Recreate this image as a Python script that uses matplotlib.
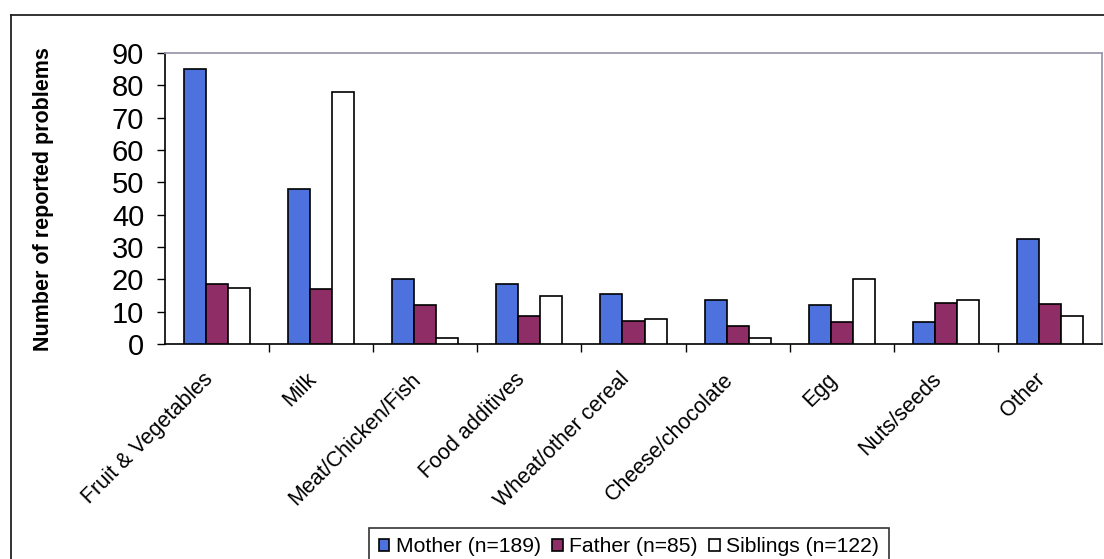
import numpy as np
import matplotlib
matplotlib.use("Agg")
import matplotlib.pyplot as plt
from matplotlib.lines import Line2D
from matplotlib.transforms import ScaledTranslation

plt.rcParams["font.family"] = ["Liberation Sans", "DejaVu Sans"]

categories = ["Fruit & Vegetables", "Milk", "Meat/Chicken/Fish", "Food additives",
              "Wheat/other cereal", "Cheese/chocolate", "Egg", "Nuts/seeds", "Other"]
mother = [85, 48, 20, 18.5, 15.5, 13.5, 12, 6.7, 32.5]
father = [18.5, 17, 12, 8.7, 7, 5.7, 6.7, 12.7, 12.5]
siblings = [17.2, 78, 2, 15, 7.8, 1.9, 20, 13.5, 8.7]
series_labels = ["Mother (n=189)", "Father (n=85)", "Siblings (n=122)"]
yticks = list(range(0, 100, 10))

fig = plt.figure(figsize=(11.04, 5.59), dpi=100)
ax = fig.add_axes([165 / 1104, 1 - 344 / 559, (1102 - 165) / 1104, (344 - 53) / 559])

x = np.arange(len(categories))
w = 0.212
colors = ["#4d72de", "#8f2d66", "white"]
for i, (vals, lab, col) in enumerate(zip([mother, father, siblings], series_labels, colors)):
    ax.bar(x + (i - 1) * w, vals, width=w, color=col, edgecolor="black",
           linewidth=1.2, label=lab, zorder=3)

ax.set_xlim(-0.5, len(categories) - 0.5)
ax.set_ylim(0, 90)
ax.set_yticks(yticks)
ax.tick_params(axis="y", labelsize=21, length=6, width=1, pad=9, direction="out")

# category labels at centres, tick marks at the boundaries
ax.set_xticks(x)
ax.set_xticklabels(categories, rotation=45, ha="right", va="top",
                   rotation_mode="anchor", fontsize=15.5)
ax.tick_params(axis="x", which="major", length=0, pad=18)
ax.set_xticks(np.arange(0.5, len(categories) - 0.5, 1), minor=True)
ax.tick_params(axis="x", which="minor", length=6, width=1, direction="out")
shift = ScaledTranslation(-15 / 100, 0, fig.dpi_scale_trans)
for t in ax.get_xticklabels():
    t.set_transform(t.get_transform() + shift)

for side in ["top", "right"]:
    ax.spines[side].set_color("#9a9aae")
    ax.spines[side].set_linewidth(1.3)
for side in ["left", "bottom"]:
    ax.spines[side].set_color("black")
    ax.spines[side].set_linewidth(1.2)

fig.text(44 / 1104, 1 - 199 / 559, "Number of reported problems", rotation=90,
         ha="center", va="center", fontsize=15.5, fontweight="bold")

leg = fig.legend(loc="lower center", bbox_to_anchor=(629 / 1104, -0.012),
                 ncol=3, fontsize=15.2, frameon=True, fancybox=False,
                 handlelength=0.5, handleheight=0.5, handletextpad=0.3,
                 columnspacing=0.55, borderpad=0.45, borderaxespad=0)
leg.get_frame().set_edgecolor("black")
leg.get_frame().set_linewidth(1.2)

# outer chart-area border (top and left edges visible)
fig.add_artist(Line2D([11 / 1104, 1.0], [1 - 15 / 559, 1 - 15 / 559],
                      transform=fig.transFigure, color="#222222", linewidth=1.3))
fig.add_artist(Line2D([11 / 1104, 11 / 1104], [0, 1 - 15 / 559],
                      transform=fig.transFigure, color="#222222", linewidth=1.3))

fig.savefig("out.png", dpi=100)
